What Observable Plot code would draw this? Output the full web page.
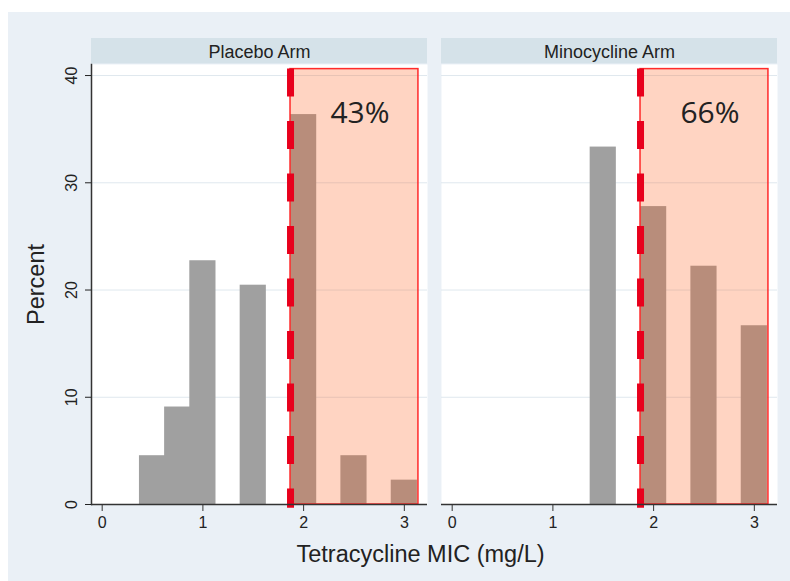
<!DOCTYPE html>
<html><head><meta charset="utf-8">
<script src="https://cdn.jsdelivr.net/npm/d3@7"></script>
<script src="https://cdn.jsdelivr.net/npm/@observablehq/plot@0.6"></script>
<style>
body{margin:0;background:#fff;}
#wrap{position:relative;width:790px;height:581px;overflow:hidden;}
#panel{position:absolute;left:8px;top:12px;width:782px;height:569px;background:#eaf0f6;}
#chart{position:absolute;left:0;top:0;}
</style></head><body>
<div id="wrap"><div id="panel"></div><div id="chart"></div></div>
<script>
// ---- data ----
const arms = ["Placebo Arm", "Minocycline Arm"];
const placeboMIC = [0.5, 0.75, 1, 1.5, 2, 2.5, 3];
const placeboPct = [4.55, 9.09, 22.73, 20.45, 36.36, 4.55, 2.27];
const minoMIC = [1.5, 2, 2.5, 3];
const minoPct = [33.33, 27.78, 22.22, 16.67];
const breakpoint = 1.87;      // resistance cut-off (mg/L)
const regionEnd = 3.14;
const regionTop = 40.6;
const resistantLabel = ["43%", "66%"];
const xTicks = [0, 1, 2, 3];
const yTicks = [0, 10, 20, 30, 40];
const gridTicks = [10, 20, 30, 40];

const bars = [
  ...placeboMIC.map((m, i) => ({arm: arms[0], mic: m, pct: placeboPct[i]})),
  ...minoMIC.map((m, i) => ({arm: arms[1], mic: m, pct: minoPct[i]}))
];
const regions = arms.map((a, i) => ({arm: a, x1: breakpoint, x2: regionEnd, top: regionTop, label: resistantLabel[i]}));
const half = 0.13;

const chart = Plot.plot({
  width: 790, height: 581,
  marginLeft: 91, marginRight: 13, marginTop: 64, marginBottom: 77,
  style: {background: "transparent", fontFamily: "'Liberation Sans', Arial, sans-serif", fontSize: "15px", color: "#222"},
  fx: {domain: arms, padding: 0.04, label: null},
  x: {domain: [-0.106, 3.23]},
  y: {domain: [0, 41.03]},
  marks: [
    Plot.frame({fill: "white", stroke: null}),
    Plot.gridY(gridTicks, {stroke: "#dfe8ee", strokeOpacity: 1, strokeWidth: 1}),
    Plot.rectY(bars, {fx: "arm", x1: d => d.mic - half, x2: d => d.mic + half, y: "pct", fill: "#a0a0a0"}),
    Plot.rect(regions, {fx: "arm", x1: "x1", x2: "x2", y1: 0, y2: "top", fill: "#ff5a14", fillOpacity: 0.26, stroke: "#ff2a2a", strokeWidth: 1.5}),
    Plot.ruleX(regions, {fx: "arm", x: "x1", y1: "top", y2: -0.35, stroke: "#e8001c", strokeWidth: 7, strokeDasharray: "28,24.5"}),
    Plot.text(regions, {fx: "arm", x: 2.56, y: 36.5, text: "label", fontSize: 30, fontFamily: "'Open Sans', sans-serif", fill: "#222"}),
    Plot.ruleY([0], {stroke: "#333", strokeWidth: 1.5}),
    Plot.frame({anchor: "left", facetAnchor: "left", stroke: "#333", strokeWidth: 1.5}),
    Plot.axisX({ticks: xTicks, tickFormat: d3.format("d"), tickSize: 7, tickPadding: 5, fontSize: 16, label: null, stroke: "#333", fill: "#222"}),
    Plot.axisX({ticks: [], label: "Tetracycline MIC (mg/L)", labelArrow: "none", labelAnchor: "center", labelOffset: 57, fontSize: 23.5, tickSize: 0}),
    Plot.axisY({ticks: yTicks, tickFormat: d3.format("d"), tickSize: 6, tickRotate: -90, tickPadding: 9, fontSize: 16, label: null, fill: "#222"}),
    Plot.axisY({ticks: [], label: "Percent", labelArrow: "none", labelAnchor: "center", labelOffset: 64, fontSize: 23.5, tickSize: 0}),
    Plot.axisFx({anchor: "top", label: null, tickSize: 0, tickPadding: 7, fontSize: 18})
  ]
});

// facet header strips behind the fx labels
const fx = chart.scale("fx");
const g = d3.select(chart).insert("g", ":first-child");
arms.forEach(a => {
  g.append("rect")
    .attr("x", fx.apply(a)).attr("width", fx.bandwidth)
    .attr("y", 38).attr("height", 25.5)
    .attr("fill", "#d5e2e9");
});
// the reference centres the x title slightly left of the panels' centre
d3.select(chart).selectAll("text").filter(function () { return this.textContent.startsWith("Tetracycline"); })
  .each(function () {
    const wrap = document.createElementNS("http://www.w3.org/2000/svg", "g");
    wrap.setAttribute("transform", "translate(-14,0)");
    this.parentNode.insertBefore(wrap, this);
    wrap.appendChild(this);
  });
document.getElementById("chart").appendChild(chart);
</script>
</body></html>
